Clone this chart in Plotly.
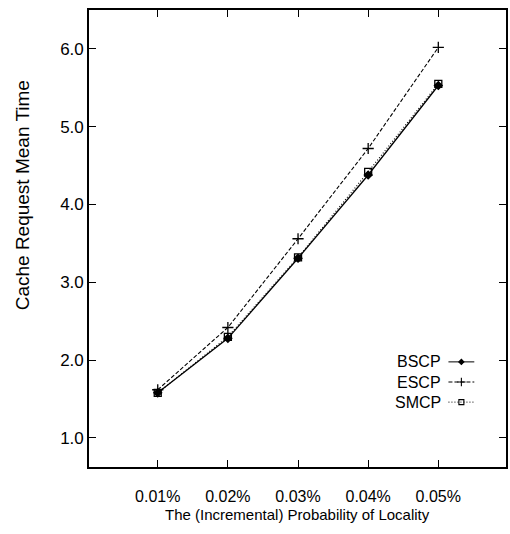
import plotly.graph_objects as go

categories = ["0.01%", "0.02%", "0.03%", "0.04%", "0.05%"]
bscp = [1.58, 2.28, 3.31, 4.38, 5.53]
escp = [1.62, 2.42, 3.56, 4.72, 6.02]
smcp = [1.58, 2.30, 3.32, 4.42, 5.55]
series_names = ["BSCP", "ESCP", "SMCP"]
y_ticks = [1.0, 2.0, 3.0, 4.0, 5.0, 6.0]

FONT = "Liberation Sans, Arial, sans-serif"

styles = {
    "BSCP": dict(dash="solid", symbol="diamond", size=6, width=1.3),
    "ESCP": dict(dash="4px,2px", symbol="cross-thin", size=8, width=1.1),
    "SMCP": dict(dash="1px,2px", symbol="square-open", size=7, width=1.1),
}
values = {"BSCP": bscp, "ESCP": escp, "SMCP": smcp}

fig = go.Figure()
for name in series_names:
    st = styles[name]
    fig.add_trace(go.Scatter(
        x=categories, y=values[name], mode="lines+markers", name=name,
        line=dict(color="black", width=st["width"], dash=st["dash"]),
        marker=dict(symbol=st["symbol"], size=st["size"], color="black",
                    line=dict(color="black", width=1.3)),
        showlegend=False,
    ))

# custom legend (text left of the line sample, as in the reference)
leg_rows = [0.230, 0.186, 0.142]
for name, yr in zip(series_names, leg_rows):
    st = styles[name]
    fig.add_trace(go.Scatter(
        x=[0.862, 0.924], y=[yr, yr], xaxis="x2", yaxis="y2", mode="lines",
        line=dict(color="black", width=1.0, dash=st["dash"]), showlegend=False,
        hoverinfo="skip"))
    fig.add_trace(go.Scatter(
        x=[0.893], y=[yr], xaxis="x2", yaxis="y2", mode="markers",
        marker=dict(symbol=st["symbol"], size=st["size"] - 2, color="black",
                    line=dict(color="black", width=1.1)),
        showlegend=False, hoverinfo="skip"))
    fig.add_annotation(x=0.85, y=yr, xref="x2", yref="y2", text=name,
                       showarrow=False, xanchor="right", yanchor="middle",
                       font=dict(family=FONT, size=16, color="black"))

fig.add_annotation(x=0.5, y=(467 - 514) / 457, xref="paper", yref="paper",
                   text="The (Incremental) Probability of Locality",
                   showarrow=False, xanchor="center", yanchor="middle",
                   font=dict(family=FONT, size=15, color="black"))
fig.add_annotation(x=(22 - 89) / 419, y=(467 - 195) / 457, xref="paper",
                   yref="paper", text="Cache Request Mean Time", textangle=-90,
                   showarrow=False, xanchor="center", yanchor="middle",
                   font=dict(family=FONT, size=19, color="black"))

fig.update_layout(
    width=510, height=534,
    margin=dict(l=89, r=2, t=10, b=67),
    paper_bgcolor="white", plot_bgcolor="white",
    xaxis=dict(type="category", range=[-0.98, 4.965], showgrid=False,
               zeroline=False, showline=True, linecolor="black", linewidth=1.6,
               mirror="ticks", ticks="inside", ticklen=7, tickwidth=1.2,
               tickcolor="black", ticklabelstandoff=14,
               tickfont=dict(family=FONT, size=16, color="black")),
    yaxis=dict(range=[0.627, 6.5], tickvals=y_ticks, tickformat=".1f",
               showgrid=False, zeroline=False, showline=True, linecolor="black",
               linewidth=1.6, mirror="ticks", ticks="inside", ticklen=7,
               tickwidth=1.2, tickcolor="black",
               tickfont=dict(family=FONT, size=17, color="black")),
    xaxis2=dict(overlaying="x", range=[0, 1], visible=False),
    yaxis2=dict(overlaying="y", range=[0, 1], visible=False),
)

fig.write_html("out.html")
